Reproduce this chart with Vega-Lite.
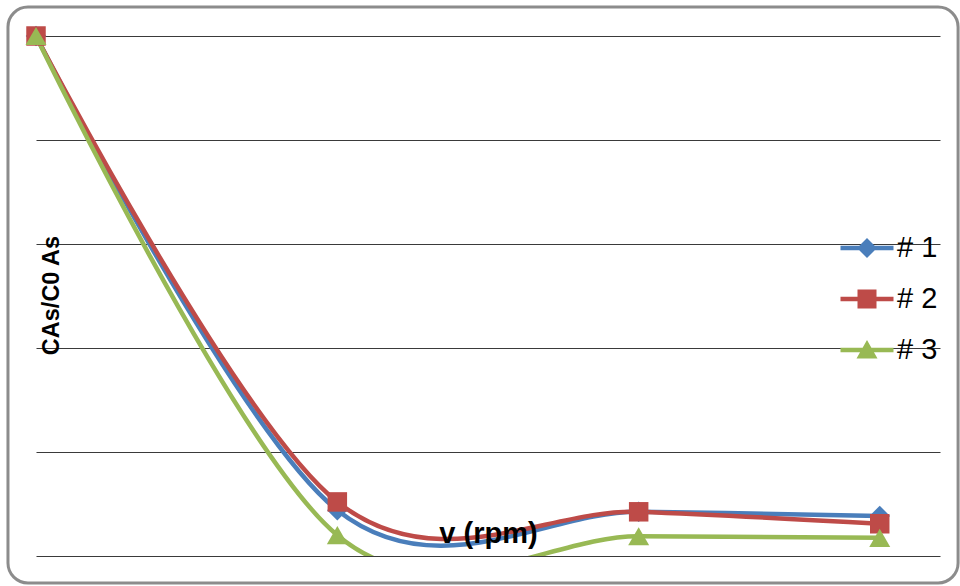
{
  "$schema": "https://vega.github.io/schema/vega-lite/v6.json",
  "width": 904,
  "height": 520,
  "autosize": {"type": "none"},
  "padding": {"left": 36, "top": 36, "right": 20, "bottom": 30},
  "background": "white",
  "config": {
    "view": {"stroke": null},
    "font": "Liberation Sans",
    "axisX": {"title": "v (rpm)", "labels": false, "ticks": false, "domain": false, "grid": false, "zindex": 1, "titleFontSize": 29, "titleFontWeight": "bold", "titleColor": "black", "titleX": 452, "titleY": -14, "titleAlign": "center", "titleBaseline": "alphabetic"},
    "axisY": {"labels": false, "ticks": false, "domain": false, "grid": true, "gridColor": "#3a3a3a", "gridWidth": 1.2, "titleFontSize": 23.5, "titleFontWeight": "bold", "titleColor": "black", "titleAngle": -90, "titleX": 22.5, "titleY": 259, "titleAlign": "center", "titleBaseline": "alphabetic"},
    "legend": {"title": null, "orient": "none", "legendX": 816.5, "legendY": 197.5, "padding": 0, "labelFontSize": 29, "labelColor": "black", "labelFont": "Liberation Sans", "labelOffset": 15.5, "symbolSize": 400, "rowPadding": 21, "symbolStrokeWidth": 0, "symbolOpacity": 1}
  },
  "data": {
    "values": [
      {"series": "# 1", "rpm": 0, "c": 1.0},
      {"series": "# 1", "rpm": 100, "c": 0.088},
      {"series": "# 1", "rpm": 200, "c": 0.085},
      {"series": "# 1", "rpm": 280, "c": 0.077},
      {"series": "# 2", "rpm": 0, "c": 1.0},
      {"series": "# 2", "rpm": 100, "c": 0.104},
      {"series": "# 2", "rpm": 200, "c": 0.085},
      {"series": "# 2", "rpm": 280, "c": 0.062},
      {"series": "# 3", "rpm": 0, "c": 1.0},
      {"series": "# 3", "rpm": 100, "c": 0.040},
      {"series": "# 3", "rpm": 200, "c": 0.038},
      {"series": "# 3", "rpm": 280, "c": 0.035}
    ]
  },
  "layer": [
    {
      "data": {"values": [{}]},
      "mark": {"type": "rect", "fill": "transparent", "stroke": "#8c8c8c", "strokeWidth": 3, "cornerRadius": 20, "clip": false},
      "encoding": {
        "x": {"datum": -9.3, "type": "quantitative", "scale": {"domain": [0, 300], "nice": false, "zero": false}, "axis": {"title": "v (rpm)", "zindex": 1}},
        "x2": {"datum": 306},
        "y": {"datum": 1.0558, "type": "quantitative", "scale": {"domain": [0, 1], "nice": false, "zero": false}, "axis": {"title": "CAs/C0 As", "values": [0, 0.2, 0.4, 0.6, 0.8, 1]}},
        "y2": {"datum": -0.052}
      }
    },
    {
      "mark": {"type": "line", "interpolate": "cardinal", "strokeWidth": 4.5, "strokeCap": "round", "clip": true},
      "encoding": {
        "x": {"field": "rpm", "type": "quantitative", "scale": {"domain": [0, 300], "nice": false, "zero": false}, "axis": {"title": "v (rpm)", "zindex": 1}},
        "y": {"field": "c", "type": "quantitative", "scale": {"domain": [0, 1], "nice": false, "zero": false}, "axis": {"title": "CAs/C0 As", "values": [0, 0.2, 0.4, 0.6, 0.8, 1]}},
        "color": {"field": "series", "type": "nominal", "scale": {"domain": ["# 1", "# 2", "# 3"], "range": ["#4a7ebb", "#be4b48", "#98b954"]}}
      }
    },
    {
      "transform": [{"filter": {"field": "series", "equal": "# 1"}}],
      "mark": {"type": "point", "shape": "diamond", "filled": true, "opacity": 1, "size": 420, "clip": false},
      "encoding": {
        "x": {"field": "rpm", "type": "quantitative", "axis": {"title": "v (rpm)", "zindex": 1}},
        "y": {"field": "c", "type": "quantitative", "axis": {"title": "CAs/C0 As", "values": [0, 0.2, 0.4, 0.6, 0.8, 1]}},
        "color": {"field": "series", "type": "nominal"}
      }
    },
    {
      "transform": [{"filter": {"field": "series", "equal": "# 2"}}],
      "mark": {"type": "point", "shape": "square", "filled": true, "opacity": 1, "size": 380, "clip": false},
      "encoding": {
        "x": {"field": "rpm", "type": "quantitative", "axis": {"title": "v (rpm)", "zindex": 1}},
        "y": {"field": "c", "type": "quantitative", "axis": {"title": "CAs/C0 As", "values": [0, 0.2, 0.4, 0.6, 0.8, 1]}},
        "color": {"field": "series", "type": "nominal"}
      }
    },
    {
      "transform": [{"filter": {"field": "series", "equal": "# 3"}}],
      "mark": {"type": "point", "shape": "triangle-up", "filled": true, "opacity": 1, "size": 441, "clip": false},
      "encoding": {
        "x": {"field": "rpm", "type": "quantitative", "axis": {"title": "v (rpm)", "zindex": 1}},
        "y": {"field": "c", "type": "quantitative", "axis": {"title": "CAs/C0 As", "values": [0, 0.2, 0.4, 0.6, 0.8, 1]}},
        "color": {"field": "series", "type": "nominal"}
      }
    },
    {
      "transform": [{"filter": {"field": "c", "lt": -1}}],
      "mark": {"type": "point", "filled": true, "opacity": 1, "size": 400},
      "encoding": {
        "x": {"field": "rpm", "type": "quantitative", "axis": {"title": "v (rpm)", "zindex": 1}},
        "y": {"field": "c", "type": "quantitative", "axis": {"title": "CAs/C0 As", "values": [0, 0.2, 0.4, 0.6, 0.8, 1]}},
        "color": {"field": "series", "type": "nominal"},
        "shape": {"field": "series", "type": "nominal", "scale": {"domain": ["# 1", "# 2", "# 3"], "range": [
          "M-2.65,-0.22H2.65V0.22H-2.65Z M0,-1L1,0L0,1L-1,0Z",
          "M-2.65,-0.22H2.65V0.22H-2.65Z M-0.95,-0.95H0.95V0.95H-0.95Z",
          "M-2.65,-0.22H2.65V0.22H-2.65Z M0,-1L1.05,0.85L-1.05,0.85Z"
        ]}}
      }
    }
  ]
}
